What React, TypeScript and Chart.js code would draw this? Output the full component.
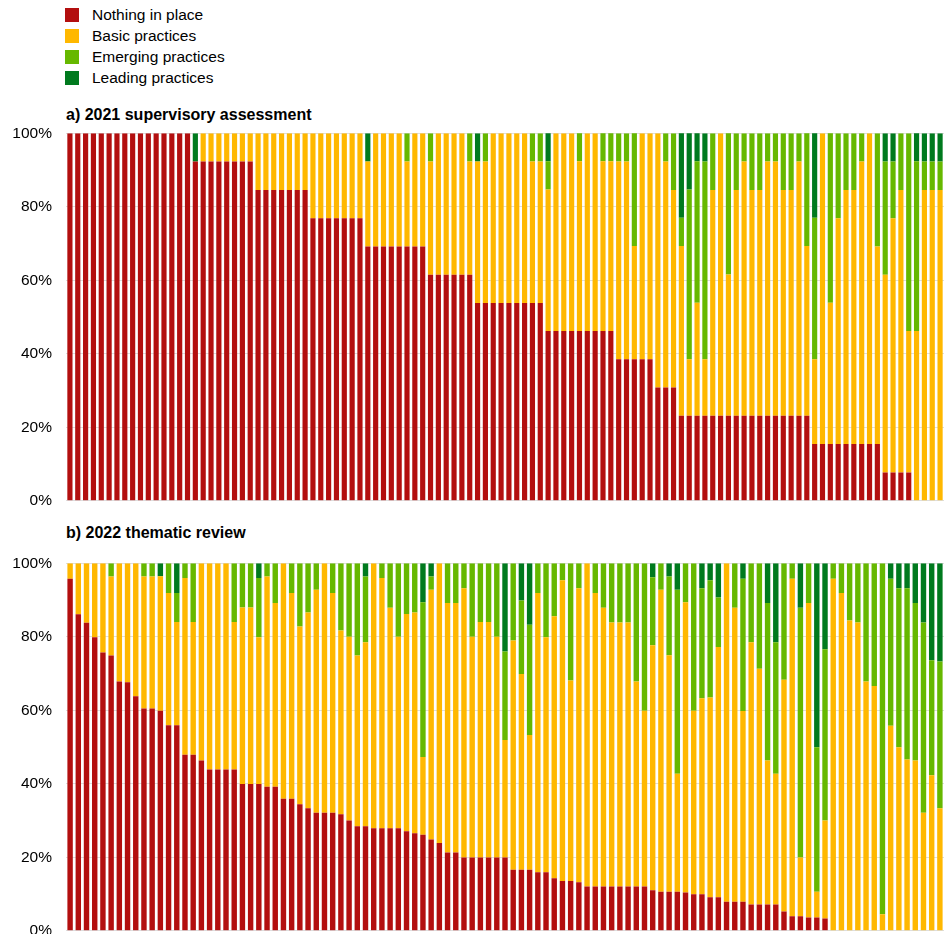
import React, { useEffect, useRef } from "react";
import { Chart, registerables } from "chart.js";

Chart.register(...registerables);

const FONT = '"Liberation Sans", Arial, sans-serif';

const SERIES = ["Nothing in place", "Basic practices", "Emerging practices", "Leading practices"];
const COLORS = ["#B30F0F", "#FFB800", "#66B800", "#007A1E"];
const Y_TICKS = [0, 20, 40, 60, 80, 100];
const TITLE_A = "a) 2021 supervisory assessment";
const TITLE_B = "b) 2022 thematic review";

// a) 2021 supervisory assessment – share of assessed items (%) per institution
const A_NOTHING = [
  100, 100, 100, 100, 100, 100, 100, 100, 100, 100,
  100, 100, 100, 100, 100, 100, 92.3, 92.3, 92.3, 92.3,
  92.3, 92.3, 92.3, 92.3, 84.6, 84.6, 84.6, 84.6, 84.6, 84.6,
  84.6, 76.9, 76.9, 76.9, 76.9, 76.9, 76.9, 76.9, 69.2, 69.2,
  69.2, 69.2, 69.2, 69.2, 69.2, 69.2, 61.5, 61.5, 61.5, 61.5,
  61.5, 61.5, 53.8, 53.8, 53.8, 53.8, 53.8, 53.8, 53.8, 53.8,
  53.8, 46.2, 46.2, 46.2, 46.2, 46.2, 46.2, 46.2, 46.2, 46.2,
  38.5, 38.5, 38.5, 38.5, 38.5, 30.8, 30.8, 30.8, 23.1, 23.1,
  23.1, 23.1, 23.1, 23.1, 23.1, 23.1, 23.1, 23.1, 23.1, 23.1,
  23.1, 23.1, 23.1, 23.1, 23.1, 15.4, 15.4, 15.4, 15.4, 15.4,
  15.4, 15.4, 15.4, 15.4, 7.7, 7.7, 7.7, 7.7, 0, 0,
  0, 0,
];
const A_BASIC = [
  0, 0, 0, 0, 0, 0, 0, 0, 0, 0,
  0, 0, 0, 0, 0, 0, 0, 7.7, 7.7, 7.7,
  7.7, 7.7, 7.7, 7.7, 15.4, 15.4, 15.4, 15.4, 15.4, 15.4,
  15.4, 23.1, 23.1, 23.1, 23.1, 23.1, 23.1, 23.1, 23.1, 30.8,
  30.8, 30.8, 30.8, 23.1, 30.8, 30.8, 30.8, 38.5, 38.5, 38.5,
  38.5, 30.8, 38.5, 38.5, 46.2, 46.2, 46.2, 46.2, 46.2, 38.5,
  38.5, 38.5, 53.8, 53.8, 53.8, 46.2, 53.8, 53.8, 46.2, 46.2,
  53.8, 53.8, 30.8, 61.5, 61.5, 69.2, 61.5, 53.8, 46.2, 15.4,
  30.8, 15.4, 61.5, 76.9, 38.5, 61.5, 69.2, 61.5, 61.5, 69.2,
  69.2, 61.5, 61.5, 69.2, 46.2, 23.1, 84.6, 38.5, 61.5, 69.2,
  69.2, 76.9, 84.6, 53.8, 53.8, 69.2, 76.9, 38.5, 46.2, 84.6,
  84.6, 84.6,
];
const A_EMERGING = [
  0, 0, 0, 0, 0, 0, 0, 0, 0, 0,
  0, 0, 0, 0, 0, 0, 0, 0, 0, 0,
  0, 0, 0, 0, 0, 0, 0, 0, 0, 0,
  0, 0, 0, 0, 0, 0, 0, 0, 0, 0,
  0, 0, 0, 7.7, 0, 0, 7.7, 0, 0, 0,
  0, 7.7, 0, 7.7, 0, 0, 0, 0, 0, 7.7,
  7.7, 7.7, 0, 0, 0, 7.7, 0, 0, 7.7, 7.7,
  7.7, 7.7, 30.8, 0, 0, 0, 7.7, 15.4, 7.7, 46.2,
  38.5, 53.8, 15.4, 0, 38.5, 15.4, 7.7, 15.4, 15.4, 7.7,
  7.7, 15.4, 15.4, 7.7, 30.8, 38.5, 0, 46.2, 23.1, 15.4,
  15.4, 7.7, 0, 30.8, 30.8, 15.4, 15.4, 53.8, 46.2, 7.7,
  7.7, 7.7,
];
const A_LEADING = [
  0, 0, 0, 0, 0, 0, 0, 0, 0, 0,
  0, 0, 0, 0, 0, 0, 7.7, 0, 0, 0,
  0, 0, 0, 0, 0, 0, 0, 0, 0, 0,
  0, 0, 0, 0, 0, 0, 0, 0, 7.7, 0,
  0, 0, 0, 0, 0, 0, 0, 0, 0, 0,
  0, 0, 7.7, 0, 0, 0, 0, 0, 0, 0,
  0, 7.7, 0, 0, 0, 0, 0, 0, 0, 0,
  0, 0, 0, 0, 0, 0, 0, 0, 23.1, 15.4,
  7.7, 7.7, 0, 0, 0, 0, 0, 0, 0, 0,
  0, 0, 0, 0, 0, 23.1, 0, 0, 0, 0,
  0, 0, 0, 0, 7.7, 7.7, 0, 0, 7.7, 7.7,
  7.7, 7.7,
];

// b) 2022 thematic review – share of assessed items (%) per institution
const B_NOTHING = [
  95.8, 86.1, 83.8, 79.9, 75.7, 74.9, 67.8, 67.6, 63.8, 60.5,
  60.5, 59.9, 55.9, 55.9, 47.9, 47.9, 46.3, 43.9, 43.9, 43.9,
  43.9, 39.9, 39.9, 39.9, 39.2, 39.2, 35.9, 35.9, 34.4, 33.3,
  32.1, 32.1, 32.1, 31.7, 30.0, 28.4, 28.4, 27.9, 27.9, 27.9,
  27.9, 27.1, 26.5, 26.1, 24.8, 23.9, 21.3, 21.3, 19.9, 19.9,
  19.9, 19.9, 19.9, 19.9, 16.6, 16.6, 16.6, 15.9, 15.9, 14.3,
  13.5, 13.5, 13.2, 12.0, 12.0, 12.0, 12.0, 12.0, 12.0, 12.0,
  12.0, 11.0, 10.6, 10.6, 10.6, 10.4, 9.9, 9.9, 9.1, 9.1,
  7.9, 7.9, 7.9, 7.1, 7.1, 7.1, 7.1, 5.2, 3.9, 3.9,
  3.6, 3.6, 3.3, 0, 0, 0, 0, 0, 0, 0,
  0, 0, 0, 0, 0, 0, 0,
];
const B_BASIC = [
  4.2, 13.9, 16.2, 20.1, 24.3, 21.5, 32.2, 32.4, 36.2, 35.9,
  35.9, 36.6, 36.0, 28.1, 48.1, 36.1, 53.7, 56.1, 56.1, 56.1,
  40.1, 48.1, 48.1, 40.0, 57.2, 50.0, 64.1, 56.0, 48.4, 53.3,
  60.7, 67.9, 59.8, 50.0, 50.0, 46.5, 50.1, 72.1, 68.1, 60.0,
  52.1, 59.1, 60.1, 21.2, 68.0, 76.1, 67.9, 67.9, 73.3, 60.1,
  64.1, 64.1, 60.1, 32.0, 62.4, 53.3, 36.7, 76.0, 64.0, 71.3,
  81.9, 54.6, 80.0, 88.0, 79.9, 75.9, 71.9, 71.9, 71.9, 55.8,
  47.9, 66.7, 82.2, 64.4, 32.1, 79.0, 50.0, 53.4, 54.4, 68.1,
  92.1, 80.0, 51.9, 71.4, 64.2, 39.2, 35.6, 63.1, 91.9, 16.0,
  85.6, 7.0, 26.7, 95.8, 91.9, 84.4, 83.9, 67.8, 66.6, 4.5,
  55.8, 49.9, 46.6, 46.3, 32.1, 42.3, 33.3,
];
const B_EMERGING = [
  0, 0, 0, 0, 0, 3.6, 0, 0, 0, 3.6,
  3.6, 0, 8.1, 7.9, 4.0, 16.0, 0, 0, 0, 0,
  16.0, 12.0, 12.0, 16.1, 3.6, 10.8, 0, 8.1, 17.2, 13.4,
  7.2, 0, 8.1, 18.3, 20.0, 25.1, 17.9, 0, 4.0, 12.1,
  20.0, 13.8, 13.4, 42.1, 3.6, 0, 10.8, 10.8, 6.8, 20.0,
  16.0, 16.0, 20.0, 24.1, 21.0, 20.0, 30.0, 8.1, 20.1, 14.4,
  4.6, 31.9, 6.8, 0, 8.1, 12.1, 16.1, 16.1, 16.1, 32.2,
  40.1, 18.5, 7.2, 21.4, 50.1, 10.6, 40.1, 29.9, 31.9, 13.5,
  0, 12.1, 36.0, 21.5, 28.7, 42.9, 35.8, 31.7, 4.2, 68.0,
  10.8, 39.3, 46.6, 4.2, 8.1, 15.6, 16.1, 32.2, 33.4, 95.5,
  40.0, 43.3, 46.6, 42.9, 51.8, 31.3, 40.0,
];
const B_LEADING = [
  0, 0, 0, 0, 0, 0, 0, 0, 0, 0,
  0, 3.5, 0, 8.1, 0, 0, 0, 0, 0, 0,
  0, 0, 0, 4.0, 0, 0, 0, 0, 0, 0,
  0, 0, 0, 0, 0, 0, 3.6, 0, 0, 0,
  0, 0, 0, 10.6, 3.6, 0, 0, 0, 0, 0,
  0, 0, 0, 24.0, 0, 10.1, 16.7, 0, 0, 0,
  0, 0, 0, 0, 0, 0, 0, 0, 0, 0,
  0, 3.8, 0, 3.6, 7.2, 0, 0, 6.8, 4.6, 9.3,
  0, 0, 4.2, 0, 0, 10.8, 21.5, 0, 0, 12.1,
  0, 50.1, 23.4, 0, 0, 0, 0, 0, 0, 0,
  4.2, 6.8, 6.8, 10.8, 16.1, 26.4, 26.7,
];

const A_SERIES = [A_NOTHING, A_BASIC, A_EMERGING, A_LEADING];
const B_SERIES = [B_NOTHING, B_BASIC, B_EMERGING, B_LEADING];

function StackedChart(props: { series: number[][]; top: number; height: number }) {
  const ref = useRef<HTMLCanvasElement | null>(null);
  useEffect(() => {
    if (!ref.current) return;
    const chart = new Chart(ref.current, {
      type: "bar",
      data: {
        labels: props.series[0].map((_, i) => String(i + 1)),
        datasets: props.series.map((vals, i) => ({
          label: SERIES[i],
          data: vals,
          backgroundColor: COLORS[i],
          borderWidth: 0,
          barPercentage: 0.66,
          categoryPercentage: 1,
        })),
      },
      options: {
        responsive: false,
        animation: false,
        layout: { padding: { top: 10, bottom: 10, left: 0, right: 0 } },
        plugins: {
          legend: { display: false },
          tooltip: { enabled: false },
          title: { display: false },
        },
        scales: {
          x: { stacked: true, display: false },
          y: {
            stacked: true,
            min: 0,
            max: 100,
            afterBuildTicks: (scale: any) => {
              scale.ticks = Y_TICKS.map((v) => ({ value: v }));
            },
            afterFit: (scale: any) => {
              scale.width = 66;
            },
            ticks: {
              padding: 14,
              color: "#000",
              font: { family: FONT, size: 15.5 },
              callback: (v: any) => `${v}%`,
            },
            grid: { color: "#dedede", lineWidth: 1, drawTicks: false },
            border: { display: false },
          },
        },
      },
    });
    return () => chart.destroy();
  }, []);
  return (
    <canvas
      ref={ref}
      width={944}
      height={props.height}
      style={{ position: "absolute", left: 0, top: props.top, width: 944, height: props.height }}
    />
  );
}

export default function App() {
  useEffect(() => {
    document.documentElement.style.overflow = "hidden";
    document.body.style.overflow = "hidden";
    document.body.style.margin = "0";
  }, []);
  return (
    <div
      style={{
        position: "absolute",
        left: 0,
        top: 0,
        width: 944,
        height: 934,
        overflow: "hidden",
        background: "#fff",
        fontFamily: FONT,
        color: "#000",
      }}
    >
      <div style={{ position: "absolute", left: 65, top: 4 }}>
        {SERIES.map((s, i) => (
          <div key={s} style={{ display: "flex", alignItems: "center", height: 21.1 }}>
            <div style={{ width: 14, height: 14, background: COLORS[i], marginRight: 13 }} />
            <span style={{ fontSize: 15.5, lineHeight: "18px", whiteSpace: "nowrap" }}>{s}</span>
          </div>
        ))}
      </div>
      <div
        style={{
          position: "absolute",
          left: 66,
          top: 105.5,
          fontSize: 16,
          fontWeight: "bold",
          lineHeight: "18px",
          whiteSpace: "nowrap",
        }}
      >
        {TITLE_A}
      </div>
      <StackedChart series={A_SERIES} top={110} height={414} />
      <div
        style={{
          position: "absolute",
          left: 66,
          top: 524,
          fontSize: 16,
          fontWeight: "bold",
          lineHeight: "18px",
          whiteSpace: "nowrap",
        }}
      >
        {TITLE_B}
      </div>
      <StackedChart series={B_SERIES} top={540} height={414} />
    </div>
  );
}
